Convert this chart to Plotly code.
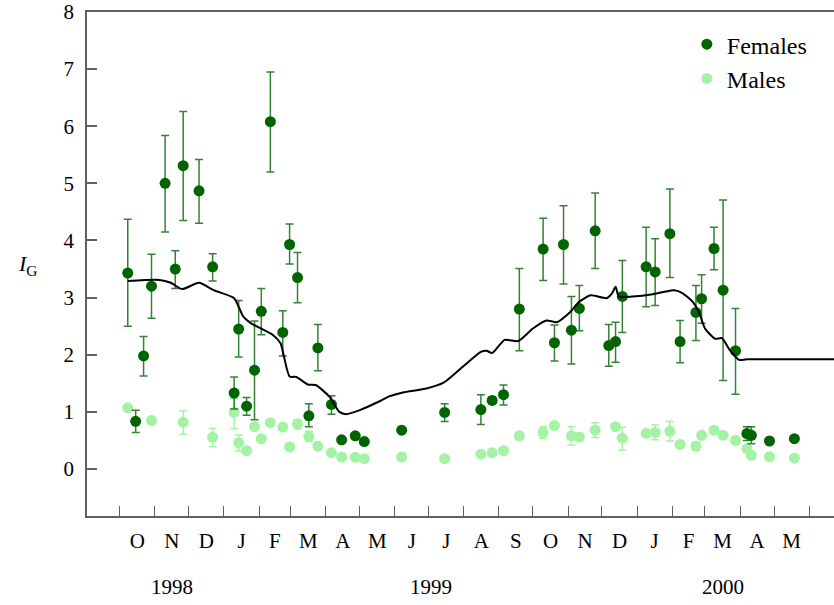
import plotly.graph_objects as go
import pandas as pd

# ---------------- data ----------------
f_dates = ["1998-10-08","1998-10-15","1998-10-22","1998-10-29","1998-11-10","1998-11-19","1998-11-26",
           "1998-12-10","1998-12-22","1999-01-10","1999-01-14","1999-01-21","1999-01-28","1999-02-03",
           "1999-02-11","1999-02-22","1999-02-28","1999-03-07","1999-03-17","1999-03-25","1999-04-06",
           "1999-04-15","1999-04-27","1999-05-05","1999-06-07","1999-07-15","1999-08-16","1999-08-26",
           "1999-09-05","1999-09-19","1999-10-10","1999-10-20","1999-10-28","1999-11-04","1999-11-11",
           "1999-11-25","1999-12-07","1999-12-13","1999-12-19","2000-01-09","2000-01-17","2000-01-30",
           "2000-02-08","2000-02-22","2000-02-27","2000-03-09","2000-03-17","2000-03-28","2000-04-07",
           "2000-04-11","2000-04-27","2000-05-19"]
f_vals = [3.43,0.835,1.98,3.20,5.00,3.50,5.31,4.87,3.54,1.33,2.45,1.10,1.73,2.76,6.08,2.39,3.93,3.35,
          0.93,2.12,1.13,0.51,0.58,0.48,0.68,0.99,1.04,1.20,1.30,2.80,3.85,2.21,3.93,2.43,2.81,4.17,
          2.16,2.23,3.02,3.54,3.45,4.12,2.23,2.74,2.98,3.86,3.13,2.07,0.62,0.59,0.49,0.53]
f_hi = [4.37,1.03,2.32,3.76,5.84,3.82,6.26,5.42,3.77,1.61,2.95,1.25,2.59,3.16,6.95,2.77,4.29,3.79,
        1.14,2.53,1.28,None,None,None,None,1.14,1.30,1.26,1.47,3.51,4.39,2.52,4.61,3.02,3.21,4.83,
        2.53,2.57,3.65,4.23,4.03,4.90,2.60,3.21,3.40,4.23,4.71,2.81,0.74,0.74,None,None]
f_lo = [2.50,0.64,1.63,2.64,4.15,3.16,4.35,4.30,3.29,1.05,1.96,0.94,0.86,2.35,5.20,1.98,3.59,2.91,
        0.74,1.72,0.96,None,None,None,None,0.83,0.78,1.14,1.12,2.07,3.30,1.89,3.24,1.84,2.42,3.51,
        1.80,1.87,2.39,2.84,2.86,3.35,1.86,2.25,2.55,3.49,1.55,1.31,0.50,0.44,None,None]

m_dates = ["1998-10-08","1998-10-29","1998-11-26","1998-12-22","1999-01-10","1999-01-14","1999-01-21",
           "1999-01-28","1999-02-03","1999-02-11","1999-02-22","1999-02-28","1999-03-07","1999-03-17",
           "1999-03-25","1999-04-06","1999-04-15","1999-04-27","1999-05-05","1999-06-07","1999-07-15",
           "1999-08-16","1999-08-26","1999-09-05","1999-09-19","1999-10-10","1999-10-20","1999-11-04",
           "1999-11-11","1999-11-25","1999-12-13","1999-12-19","2000-01-09","2000-01-17","2000-01-30",
           "2000-02-08","2000-02-22","2000-02-27","2000-03-09","2000-03-17","2000-03-28","2000-04-07",
           "2000-04-11","2000-04-27","2000-05-19"]
m_vals = [1.07,0.85,0.82,0.555,0.99,0.46,0.32,0.74,0.53,0.81,0.735,0.385,0.79,0.57,0.40,0.285,0.21,
          0.205,0.18,0.21,0.18,0.26,0.285,0.32,0.58,0.64,0.76,0.58,0.56,0.68,0.74,0.54,0.625,0.64,
          0.66,0.43,0.40,0.59,0.68,0.59,0.50,0.355,0.24,0.215,0.19]
m_hi = [None,None,1.02,0.71,1.24,0.595,None,None,None,None,None,None,0.86,0.66,None,None,None,None,
        None,None,None,None,None,None,None,0.74,None,0.74,None,0.81,None,0.73,None,0.77,0.83,None,
        0.47,None,None,None,None,None,None,None,None]
m_lo = [None,None,0.61,0.39,0.71,0.32,None,None,None,None,None,None,0.70,0.48,None,None,None,None,
        None,None,None,None,None,None,None,0.54,None,0.42,None,0.55,None,0.33,None,0.51,0.49,None,
        0.33,None,None,None,None,None,None,None,None]

line_dates = ["1998-10-08","1998-11-05","1998-11-15","1998-11-25","1998-12-10","1998-12-23","1999-01-10",
              "1999-01-14","1999-01-18","1999-01-25","1999-02-13","1999-02-20","1999-02-23","1999-02-28",
              "1999-03-06","1999-03-16","1999-03-23","1999-04-04","1999-04-13","1999-04-19","1999-05-01",
              "1999-05-19","1999-05-27","1999-06-08","1999-06-29","1999-07-14","1999-07-31","1999-08-16",
              "1999-08-21","1999-08-26","1999-09-06","1999-09-18","1999-10-01","1999-10-13","1999-10-22",
              "1999-11-03","1999-11-11","1999-11-21","1999-12-05","1999-12-10","1999-12-13","1999-12-16",
              "1999-12-28","2000-01-15","2000-01-30","2000-02-03","2000-02-10","2000-02-19","2000-02-25",
              "2000-03-01","2000-03-10","2000-03-16","2000-03-23","2000-03-31","2000-04-07","2000-07-01"]
line_vals = [3.29,3.31,3.26,3.15,3.26,3.13,2.99,2.84,2.67,2.55,2.35,2.20,1.97,1.62,1.61,1.48,1.47,1.27,
             1.00,0.96,1.03,1.19,1.27,1.34,1.41,1.51,1.79,2.05,2.07,2.03,2.26,2.24,2.46,2.60,2.57,2.75,
             2.93,3.04,2.99,3.08,3.19,3.02,3.02,3.06,3.12,3.13,3.08,2.93,2.73,2.46,2.28,2.29,2.08,1.91,
             1.92,1.92]

month_letters = ["O","N","D","J","F","M","A","M","J","J","A","S","O","N","D","J","F","M","A","M"]
first_month = "1998-10-01"
years = ["1998", "1999", "2000"]
year_spans = [("1998-10-01", "1999-01-01"), ("1999-01-01", "2000-01-01"), ("2000-01-01", "2000-06-01")]

# ---------------- styling ----------------
FONT = "Liberation Serif, DejaVu Serif, serif"
DARK = "#006400"
LIGHT = "#a4f2a4"
AXIS = "#606060"


def err_parts(vals, hi, lo):
    plus = [None if h is None else h - v for v, h in zip(vals, hi)]
    minus = [None if l is None else v - l for v, l in zip(vals, lo)]
    return plus, minus


month_starts = pd.date_range(first_month, periods=len(month_letters) + 1, freq="MS")
month_mids = [s + (e - s) / 2 for s, e in zip(month_starts[:-1], month_starts[1:])]

fp, fm = err_parts(f_vals, f_hi, f_lo)
mp, mm = err_parts(m_vals, m_hi, m_lo)

fig = go.Figure()
fig.add_trace(go.Scatter(
    x=m_dates, y=m_vals, mode="markers", name="Males",
    marker=dict(color=LIGHT, size=11),
    error_y=dict(type="data", symmetric=False, array=mp, arrayminus=mm,
                 color=LIGHT, thickness=1.5, width=4),
))
fig.add_trace(go.Scatter(
    x=f_dates, y=f_vals, mode="markers", name="Females",
    marker=dict(color=DARK, size=11),
    error_y=dict(type="data", symmetric=False, array=fp, arrayminus=fm,
                 color="rgba(0,100,0,0.8)", thickness=1.5, width=4),
))
fig.add_trace(go.Scatter(
    x=line_dates, y=line_vals, mode="lines", showlegend=False,
    line=dict(color="black", width=2, shape="spline", smoothing=0.6),
))

PW, PH, L, T = 747, 504, 87, 12

for yr, (s, e) in zip(years, year_spans):
    c = pd.Timestamp(s) + (pd.Timestamp(e) - pd.Timestamp(s)) / 2
    fig.add_annotation(x=c, xref="x", y=-(587 - (T + PH)) / PH, yref="paper", yanchor="middle",
                       text=yr, showarrow=False, font=dict(family=FONT, size=21, color="black"))

fig.add_annotation(x=(27 - L) / PW, xref="paper", y=(T + PH - 265) / PH, yref="paper",
                   xanchor="center", yanchor="middle", text="<i>I</i><sub>G</sub>",
                   showarrow=False, font=dict(family=FONT, size=22, color="black"))

fig.update_layout(
    width=834, height=605,
    margin=dict(l=L, r=0, t=T, b=605 - T - PH),
    paper_bgcolor="white", plot_bgcolor="white",
    font=dict(family=FONT, size=21, color="black"),
    showlegend=True,
    legend=dict(x=0.803, y=0.98, xanchor="left", yanchor="top", traceorder="reversed",
                bgcolor="rgba(0,0,0,0)", font=dict(family=FONT, size=24, color="black")),
    xaxis=dict(
        range=["1998-09-02", "2000-06-23"],
        tickmode="array", tickvals=month_mids, ticktext=month_letters,
        ticks="", showgrid=False, zeroline=False,
        showline=True, linecolor=AXIS, linewidth=1.5, mirror=True,
        ticklabelstandoff=5,
        minor=dict(tickmode="array", tickvals=list(month_starts), ticks="inside",
                   ticklen=10, tickwidth=1, tickcolor=AXIS, showgrid=False),
    ),
    yaxis=dict(
        range=[-0.823, 8.0], tickmode="array", tickvals=list(range(0, 9)),
        ticks="inside", ticklen=10, tickwidth=1.5, tickcolor=AXIS,
        showgrid=False, zeroline=False, showline=True, linecolor=AXIS, linewidth=1.5,
        ticklabelstandoff=7,
    ),
)

fig.write_html("out.html")
